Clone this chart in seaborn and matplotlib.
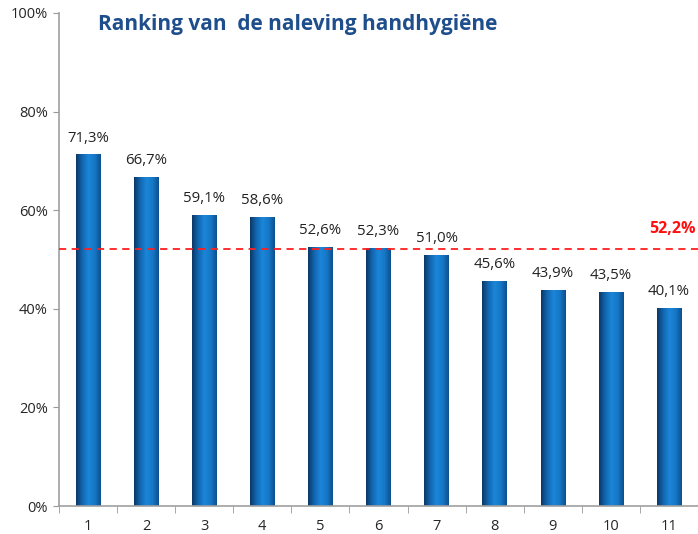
import numpy as np
import pandas as pd
import matplotlib
matplotlib.use("Agg")
import matplotlib.pyplot as plt
from matplotlib.colors import LinearSegmentedColormap
import seaborn as sns

ranks = ["1", "2", "3", "4", "5", "6", "7", "8", "9", "10", "11"]
naleving = [71.3, 66.7, 59.1, 58.6, 52.6, 52.3, 51.0, 45.6, 43.9, 43.5, 40.1]
gemiddelde = 52.2

df = pd.DataFrame({"rank": ranks, "pct": naleving})

sns.set_style("white")
plt.rcParams["font.family"] = ["Open Sans", "DejaVu Sans"]

fig = plt.figure(figsize=(6.98, 5.34), dpi=100)
ax = fig.add_axes([0.0845, 0.0524, 0.9155, 0.9233])

sns.barplot(data=df, x="rank", y="pct", color="#1464b4", width=0.42, ax=ax,
            saturation=1)

# gradient fill over the bars
cmap = LinearSegmentedColormap.from_list(
    "bar", ["#0b3766", "#1266b0", "#1b86d8", "#1677c6", "#0c4f8e"])
grad = np.linspace(0, 1, 256).reshape(1, -1)
for patch in ax.patches:
    x0, y0 = patch.get_x(), patch.get_y()
    w, h = patch.get_width(), patch.get_height()
    im = ax.imshow(grad, cmap=cmap, aspect="auto",
                   extent=[x0, x0 + w, y0, y0 + h], zorder=patch.get_zorder())
    im.set_clip_path(patch)
    patch.set_edgecolor("none")

for i, v in enumerate(naleving):
    ax.text(i, v + 1.8, f"{v:.1f}%".replace(".", ","), ha="center",
            va="bottom", fontsize=10.8, color="#222222")

ax.axhline(gemiddelde, color="#ff2020", ls=(0, (4, 3)), lw=1.3, zorder=3)
ax.text(10.46, gemiddelde + 2.3, f"{gemiddelde:.1f}%".replace(".", ","),
        ha="right", va="bottom", color="#ff1010", fontsize=11.5,
        fontweight="bold")

ax.set_xlim(-0.5, 10.5)
ax.set_ylim(0, 100)
ax.set_yticks(range(0, 101, 20))
ax.set_yticklabels([f"{t}%" for t in range(0, 101, 20)])
ax.set_xticks(np.arange(-0.5, 10.6, 1), minor=True)
ax.tick_params(axis="x", which="major", length=0, pad=9, labelsize=10.5)
ax.tick_params(axis="x", which="minor", length=5, color="#999999",
               direction="out", bottom=True)
ax.tick_params(axis="y", length=4, color="#999999", direction="out",
               left=True, labelsize=10.5, pad=4)
ax.set_xlabel("")
ax.set_ylabel("")
for s in ["top", "right"]:
    ax.spines[s].set_visible(False)
for s in ["left", "bottom"]:
    ax.spines[s].set_color("#a0a0a0")
    ax.spines[s].set_linewidth(1.2)

fig.text(0.14, 0.955, "Ranking van  de naleving handhygiëne", fontsize=15,
         fontweight="bold", color="#1f4e8c", ha="left", va="center")

fig.savefig("out.png", dpi=100)
